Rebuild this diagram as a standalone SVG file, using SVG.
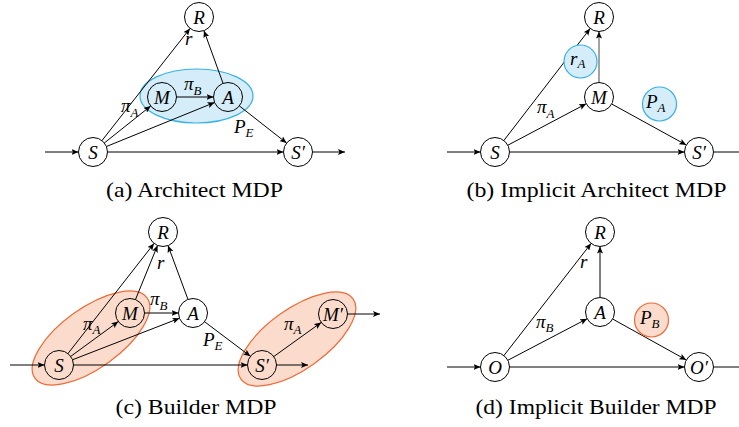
<svg xmlns="http://www.w3.org/2000/svg" width="739" height="427" viewBox="0 0 739 427">
<style>
.n{fill:none;stroke:#000;stroke-width:1}
.nw{fill:#fff;stroke:#000;stroke-width:1}
.e{stroke:#000;stroke-width:1;fill:none;marker-end:url(#ah)}
.eg{stroke:#666;stroke-width:1.2;fill:none;marker-end:url(#ah)}
text{font-family:'Liberation Serif','Times New Roman',serif}
.t{font-style:italic;font-size:19px;text-anchor:middle}
.m{font-style:italic;font-size:19px}
.s{font-size:13px}
.cap{font-size:22px;text-anchor:middle}
.blue{fill:#d5edf9;stroke:#36b1e4;stroke-width:1.2}
.orange{fill:#fbdccc;stroke:#f06a38;stroke-width:1.2}
</style>
<defs>
<marker id="ah" viewBox="0 0 7 6" refX="7" refY="3" markerWidth="7" markerHeight="6" markerUnits="userSpaceOnUse" orient="auto">
<path d="M0,0 L7,3 L0,6 L1.5,3 z" fill="#000"/>
</marker>
</defs>

<g id="highlights">
<ellipse class="blue" cx="196.5" cy="96" rx="56.5" ry="27"/>
<ellipse class="orange" cx="91" cy="338" rx="69" ry="30" transform="rotate(-35.6 91 338)"/>
<ellipse class="orange" cx="297" cy="339" rx="69" ry="30" transform="rotate(-35.6 297 339)"/>
</g>

<g id="connectors">
<line class="e" x1="45" y1="152" x2="78.5" y2="152"/>
<line class="e" x1="101.96" y1="140.59" x2="190.04" y2="28.41"/>
<line class="e" x1="104.34" y1="142.96" x2="150.66" y2="106.04"/>
<line class="e" x1="106.43" y1="146.53" x2="214.57" y2="102.47"/>
<line class="e" x1="107.5" y1="152" x2="283.5" y2="152"/>
<line class="e" x1="176.5" y1="97" x2="213.5" y2="97"/>
<line class="e" x1="223.06" y1="83.37" x2="203.94" y2="30.63"/>
<line class="e" x1="239.4" y1="105.96" x2="286.6" y2="143.04"/>
<line class="e" x1="312.5" y1="152" x2="345" y2="152"/>
<line class="e" x1="447" y1="152" x2="480.5" y2="152"/>
<line class="e" x1="503.85" y1="140.51" x2="590.15" y2="28.49"/>
<line class="e" x1="507.82" y1="145.22" x2="586.18" y2="103.78"/>
<line class="e" x1="509.5" y1="152" x2="684.5" y2="152"/>
<line class="eg" x1="599" y1="82.5" x2="599" y2="31.5"/>
<line class="e" x1="611.7" y1="103.99" x2="686.3" y2="145.01"/>
<line class="e" x1="713.5" y1="152" x2="746" y2="152"/>
<line class="e" x1="10" y1="365" x2="44.5" y2="365"/>
<line class="e" x1="67.93" y1="353.58" x2="154.07" y2="243.42"/>
<line class="e" x1="70.7" y1="356.43" x2="118.3" y2="321.57"/>
<line class="e" x1="72.52" y1="359.75" x2="179.48" y2="318.25"/>
<line class="e" x1="73.5" y1="365" x2="247.5" y2="365"/>
<line class="e" x1="135.47" y1="299.57" x2="157.53" y2="245.43"/>
<line class="e" x1="144.5" y1="313" x2="178.5" y2="313"/>
<line class="e" x1="187.96" y1="299.4" x2="168.04" y2="245.6"/>
<line class="e" x1="204.58" y1="321.73" x2="250.42" y2="356.27"/>
<line class="e" x1="273.78" y1="356.54" x2="321.22" y2="322.46"/>
<line class="e" x1="276.5" y1="365" x2="308" y2="365"/>
<line class="e" x1="347.5" y1="314" x2="380" y2="314"/>
<line class="e" x1="447" y1="367" x2="480.5" y2="367"/>
<line class="e" x1="503.9" y1="355.56" x2="591.1" y2="243.44"/>
<line class="e" x1="507.84" y1="360.27" x2="587.16" y2="318.73"/>
<line class="e" x1="509.5" y1="367" x2="684.5" y2="367"/>
<line class="e" x1="600" y1="297.5" x2="600" y2="246.5"/>
<line class="e" x1="612.68" y1="319.04" x2="686.32" y2="359.96"/>
<line class="e" x1="713.5" y1="367" x2="746" y2="367"/>
</g>

<g id="a-R"><circle class="nw" cx="199" cy="17" r="14.5"/><text class="t" x="199" y="23.5">R</text></g>
<g id="a-M"><circle class="n" cx="162" cy="97" r="14.5"/><text class="t" x="162" y="103.5">M</text></g>
<g id="a-A"><circle class="n" cx="228" cy="97" r="14.5"/><text class="t" x="228" y="103.5">A</text></g>
<g id="a-S"><circle class="nw" cx="93" cy="152" r="14.5"/><text class="t" x="93" y="158.5">S</text></g>
<g id="a-S2"><circle class="nw" cx="298" cy="152" r="14.5"/><text class="t" x="298" y="158.5">S′</text></g>
<g id="a-labels">
<text class="m" x="185" y="45">r</text>
<text class="m" x="121" y="112">π<tspan class="s" dy="5">A</tspan></text>
<text class="m" x="184" y="90">π<tspan class="s" dy="5">B</tspan></text>
<text class="m" x="234" y="133">P<tspan class="s" dy="4">E</tspan></text>
</g>

<g id="b-R"><circle class="nw" cx="599" cy="17" r="14.5"/><text class="t" x="599" y="23.5">R</text></g>
<g id="b-M"><circle class="nw" cx="599" cy="97" r="14.5"/><text class="t" x="599" y="103.5">M</text></g>
<g id="b-S"><circle class="nw" cx="495" cy="152" r="14.5"/><text class="t" x="495" y="158.5">S</text></g>
<g id="b-S2"><circle class="nw" cx="699" cy="152" r="14.5"/><text class="t" x="699" y="158.5">S′</text></g>
<g id="b-rA"><circle class="blue" cx="580.5" cy="61.5" r="16.5"/><text class="m" x="570" y="65">r<tspan class="s" dy="3">A</tspan></text></g>
<g id="b-PA"><circle class="blue" cx="659.5" cy="104" r="17"/><text class="m" x="646" y="108">P<tspan class="s" dy="4">A</tspan></text></g>
<g id="b-labels">
<text class="m" x="537" y="113">π<tspan class="s" dy="5">A</tspan></text>
</g>

<g id="c-R"><circle class="nw" cx="163" cy="232" r="14.5"/><text class="t" x="163" y="238.5">R</text></g>
<g id="c-M"><circle class="n" cx="130" cy="313" r="14.5"/><text class="t" x="130" y="319.5">M</text></g>
<g id="c-A"><circle class="nw" cx="193" cy="313" r="14.5"/><text class="t" x="193" y="319.5">A</text></g>
<g id="c-S"><circle class="n" cx="59" cy="365" r="14.5"/><text class="t" x="59" y="371.5">S</text></g>
<g id="c-S2"><circle class="n" cx="262" cy="365" r="14.5"/><text class="t" x="262" y="371.5">S′</text></g>
<g id="c-M2"><circle class="n" cx="333" cy="314" r="14.5"/><text class="t" x="333" y="320.5">M′</text></g>
<g id="c-labels">
<text class="m" x="157" y="269">r</text>
<text class="m" x="150" y="305">π<tspan class="s" dy="5">B</tspan></text>
<text class="m" x="83" y="330">π<tspan class="s" dy="4">A</tspan></text>
<text class="m" x="203" y="346">P<tspan class="s" dy="4">E</tspan></text>
<text class="m" x="284" y="330">π<tspan class="s" dy="4">A</tspan></text>
</g>

<g id="d-R"><circle class="nw" cx="600" cy="232" r="14.5"/><text class="t" x="600" y="238.5">R</text></g>
<g id="d-A"><circle class="nw" cx="600" cy="312" r="14.5"/><text class="t" x="600" y="318.5">A</text></g>
<g id="d-O"><circle class="nw" cx="495" cy="367" r="14.5"/><text class="t" x="495" y="373.5">O</text></g>
<g id="d-O2"><circle class="nw" cx="699" cy="367" r="14.5"/><text class="t" x="699" y="373.5">O′</text></g>
<g id="d-PB"><circle class="orange" cx="651.5" cy="320" r="17"/><text class="m" x="640" y="324">P<tspan class="s" dy="4">B</tspan></text></g>
<g id="d-labels">
<text class="m" x="580" y="268">r</text>
<text class="m" x="536" y="328">π<tspan class="s" dy="4">B</tspan></text>
</g>

<g id="captions">
<text class="cap" x="194.5" y="197" textLength="177" lengthAdjust="spacingAndGlyphs">(a) Architect MDP</text>
<text class="cap" x="596.5" y="197" textLength="260" lengthAdjust="spacingAndGlyphs">(b) Implicit Architect MDP</text>
<text class="cap" x="196" y="414" textLength="161" lengthAdjust="spacingAndGlyphs">(c) Builder MDP</text>
<text class="cap" x="596" y="414" textLength="241" lengthAdjust="spacingAndGlyphs">(d) Implicit Builder MDP</text>
</g>
</svg>
